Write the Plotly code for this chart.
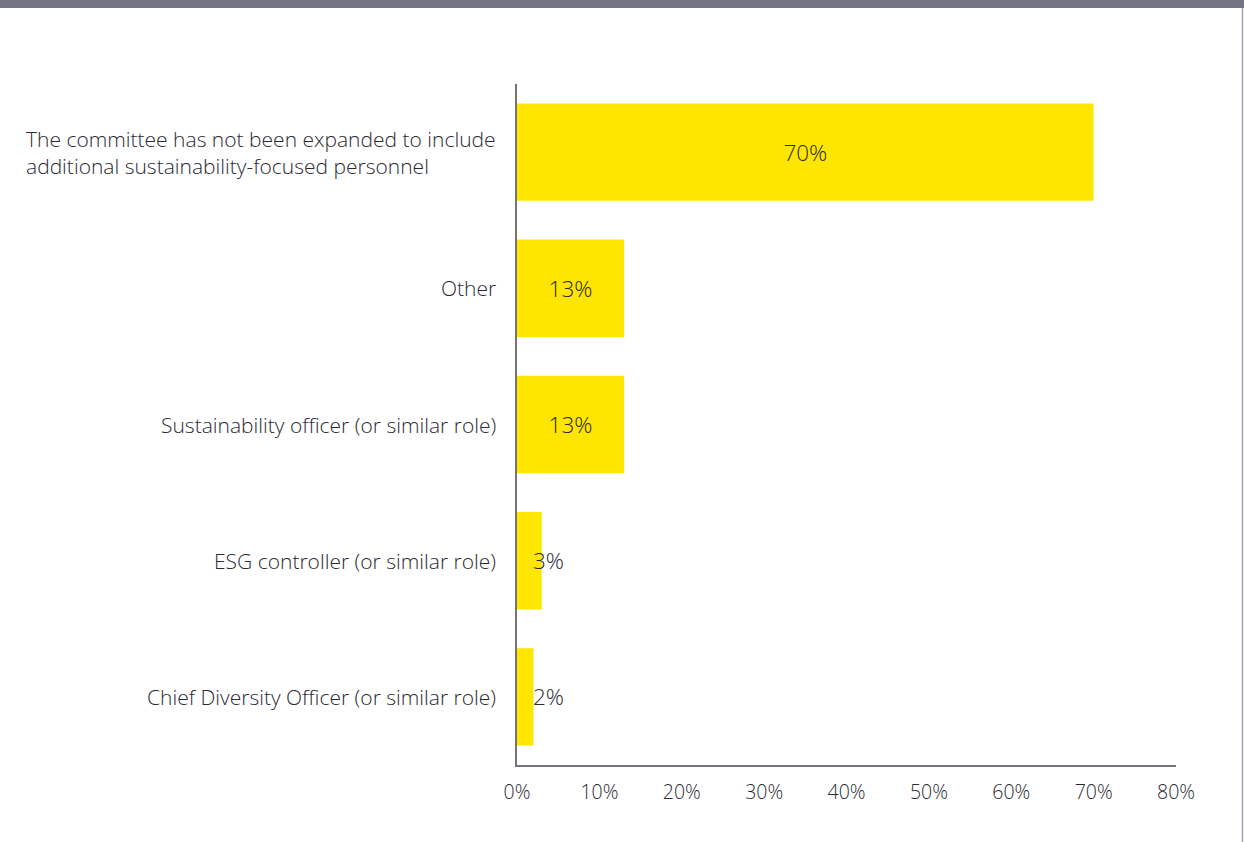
import plotly.graph_objects as go

# Survey responses: additional sustainability-focused personnel on the committee
categories = [
    "The committee has not been expanded to include<br>additional sustainability-focused personnel",
    "Other",
    "Sustainability officer (or similar role)",
    "ESG controller (or similar role)",
    "Chief Diversity Officer (or similar role)",
]
values = [70, 13, 13, 3, 2]
tick_values = [0, 10, 20, 30, 40, 50, 60, 70, 80]
tick_labels = [f"{v}%" for v in tick_values]

W, H = 1244, 842
M_L, M_R, M_T, M_B = 517, 68, 84, 77
FONT = "Open Sans"
TEXT = "#2a2a33"
AXIS = "#747480"
YELLOW = "#ffe600"
LABEL_SIZE = 21
VALUE_SIZE = 22.5
TICK_SIZE = 19.5

plot_h = H - M_T - M_B
plot_w = W - M_L - M_R

# labels sit inside the bar when it is wide enough, otherwise just right of the axis
inside_text = [f"{v}%" if v >= 10 else "" for v in values]

fig = go.Figure(
    go.Bar(
        x=values,
        y=categories,
        orientation="h",
        marker=dict(color=YELLOW, line=dict(width=0)),
        text=inside_text,
        textposition="inside",
        insidetextanchor="middle",
        textangle=0,
        textfont=dict(family=FONT, size=VALUE_SIZE, color=TEXT, weight=300),
        hoverinfo="skip",
    )
)

label_font = dict(family=FONT, size=LABEL_SIZE, color=TEXT, weight=300)
annotations = []
for cat, v in zip(categories, values):
    # category label: block ends just left of the axis, wrapped lines left-aligned
    annotations.append(dict(
        x=0, xref="paper", xanchor="right", xshift=-19,
        y=cat, yref="y", yanchor="middle",
        text=cat, align="left", showarrow=False, font=label_font,
    ))
    if v < 10:
        annotations.append(dict(
            x=0, xref="x", xanchor="left", xshift=14,
            y=cat, yref="y", yanchor="middle",
            text=f"{v}%", showarrow=False,
            font=dict(family=FONT, size=VALUE_SIZE, color=TEXT, weight=300),
        ))

# header band and right border in paper coordinates
top_y1 = (H - M_B) / plot_h
top_y0 = (H - M_B - 8) / plot_h
shapes = [
    dict(type="rect", xref="paper", yref="paper",
         x0=-M_L / plot_w, x1=(W - M_L) / plot_w,
         y0=top_y0, y1=top_y1,
         line=dict(width=0), fillcolor="#747380"),
    dict(type="line", xref="paper", yref="paper",
         x0=(W - M_L - 1.5) / plot_w, x1=(W - M_L - 1.5) / plot_w,
         y0=-M_B / plot_h, y1=top_y0,
         line=dict(width=1.5, color="#a6a6ae")),
]

fig.update_layout(
    width=W, height=H,
    margin=dict(l=M_L, r=M_R, t=M_T, b=M_B, autoexpand=False),
    paper_bgcolor="white", plot_bgcolor="white",
    showlegend=False,
    bargap=0.285,
    annotations=annotations,
    shapes=shapes,
    font=dict(family=FONT, color=TEXT),
)
fig.update_xaxes(
    range=[0, 80],
    tickvals=tick_values, ticktext=tick_labels,
    showgrid=False, zeroline=False,
    showline=True, linecolor=AXIS, linewidth=2,
    ticks="", ticklabelstandoff=9,
    tickfont=dict(family=FONT, size=TICK_SIZE, color=TEXT, weight=300),
    fixedrange=True,
)
fig.update_yaxes(
    categoryorder="array", categoryarray=categories,
    autorange="reversed",
    showticklabels=False, showgrid=False, zeroline=False,
    showline=True, linecolor=AXIS, linewidth=2,
    ticks="",
    fixedrange=True,
)

fig.write_html("out.html", config={"displayModeBar": False})
